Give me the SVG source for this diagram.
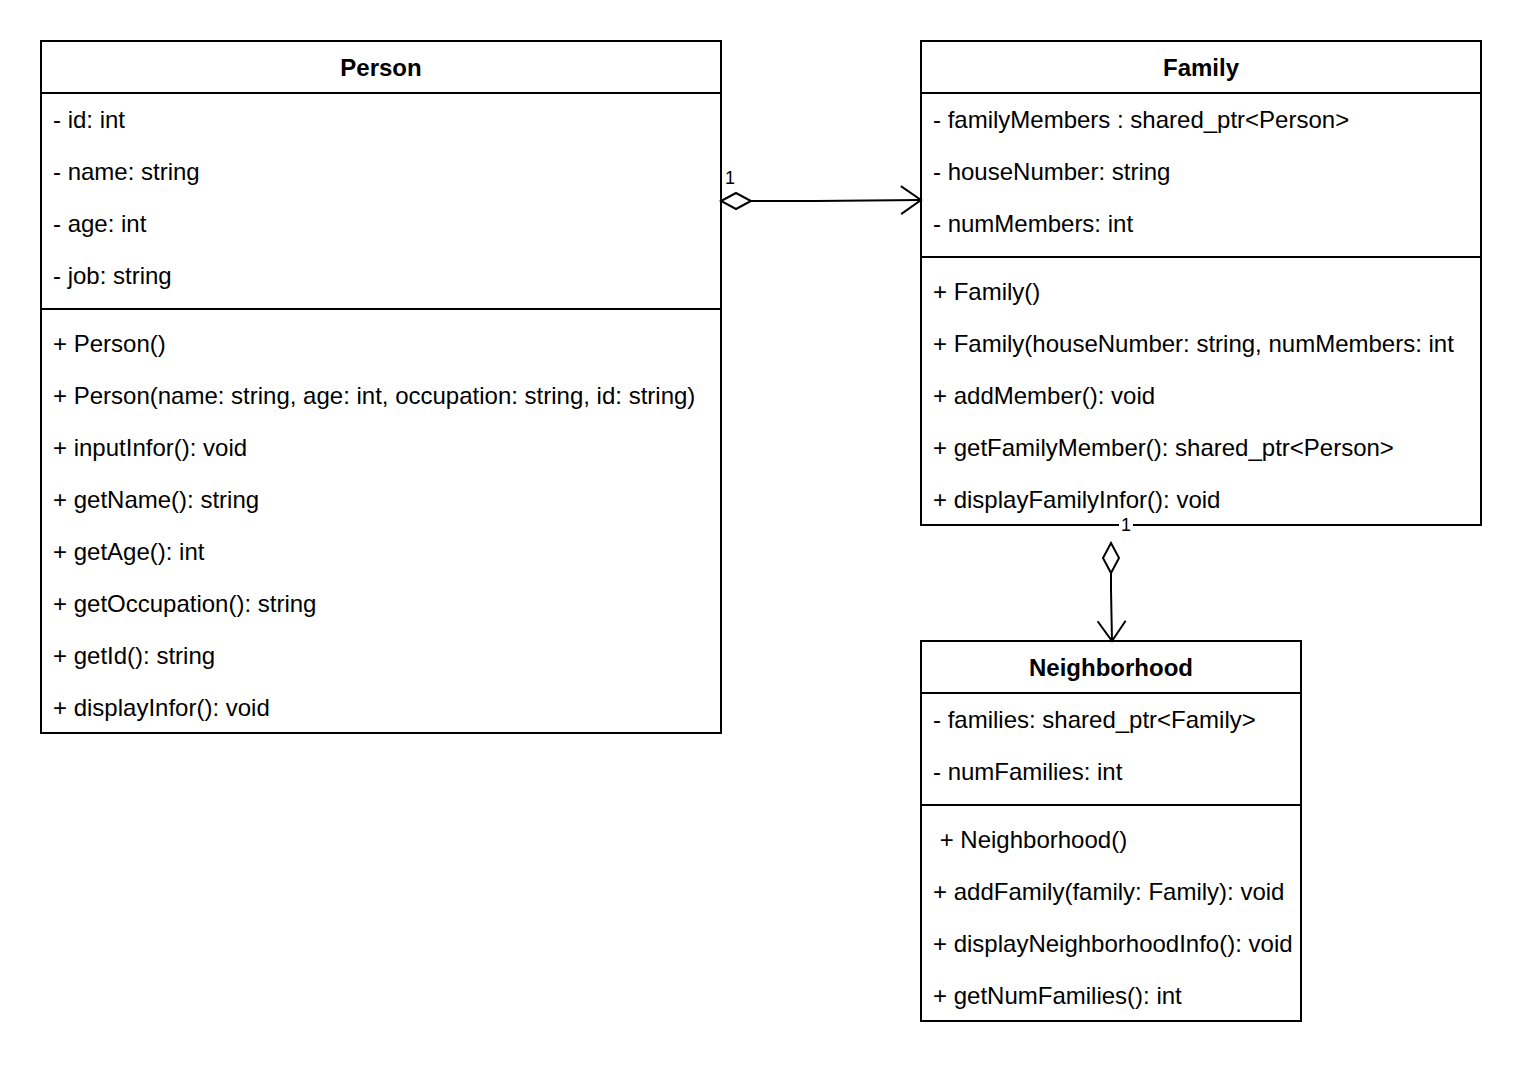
<svg xmlns="http://www.w3.org/2000/svg" width="1522" height="1068" viewBox="0 0 1522 1068">
  <style>
    .box { fill: #ffffff; stroke: #000000; stroke-width: 2; }
    .sep { stroke: #000000; stroke-width: 2; fill: none; }
    .title { font-family: "Liberation Sans", Arial, sans-serif; font-size: 24px; font-weight: bold; fill: #000000; text-anchor: middle; }
    .row { font-family: "Liberation Sans", Arial, sans-serif; font-size: 24px; fill: #000000; }
    .edge { stroke: #000000; stroke-width: 2; fill: none; }
    .lbl { font-family: "Liberation Sans", Arial, sans-serif; font-size: 18px; fill: #000000; }
  </style>
  <defs>
    <marker id="openArrow" markerWidth="24" markerHeight="32" refX="22" refY="16" orient="auto" markerUnits="userSpaceOnUse">
      <path d="M2,2 L22,16 L2,30" fill="none" stroke="#000000" stroke-width="2"/>
    </marker>
    <marker id="diamond" markerWidth="36" markerHeight="20" refX="2" refY="10" orient="auto" markerUnits="userSpaceOnUse">
      <path d="M2,10 L17,2 L32,10 L17,18 Z" fill="#ffffff" stroke="#000000" stroke-width="2"/>
    </marker>
  </defs>
  <rect x="0" y="0" width="1522" height="1068" fill="#ffffff"/>

  <g id="Person">
    <rect class="box" x="41" y="41" width="680" height="692"/>
    <line class="sep" x1="41" y1="93" x2="721" y2="93"/>
    <line class="sep" x1="41" y1="309" x2="721" y2="309"/>
    <text class="title" x="381" y="76">Person</text>
    <text class="row" x="53" y="128">- id: int</text>
    <text class="row" x="53" y="180">- name: string</text>
    <text class="row" x="53" y="232">- age: int</text>
    <text class="row" x="53" y="284">- job: string</text>
    <text class="row" x="53" y="352">+ Person()</text>
    <text class="row" x="53" y="404">+ Person(name: string, age: int, occupation: string, id: string)</text>
    <text class="row" x="53" y="456">+ inputInfor(): void</text>
    <text class="row" x="53" y="508">+ getName(): string</text>
    <text class="row" x="53" y="560">+ getAge(): int</text>
    <text class="row" x="53" y="612">+ getOccupation(): string</text>
    <text class="row" x="53" y="664">+ getId(): string</text>
    <text class="row" x="53" y="716">+ displayInfor(): void</text>
  </g>

  <g id="Family">
    <rect class="box" x="921" y="41" width="560" height="484"/>
    <line class="sep" x1="921" y1="93" x2="1481" y2="93"/>
    <line class="sep" x1="921" y1="257" x2="1481" y2="257"/>
    <text class="title" x="1201" y="76">Family</text>
    <text class="row" x="933" y="128">- familyMembers : shared_ptr&lt;Person&gt;</text>
    <text class="row" x="933" y="180">- houseNumber: string</text>
    <text class="row" x="933" y="232">- numMembers: int</text>
    <text class="row" x="933" y="300">+ Family()</text>
    <text class="row" x="933" y="352">+ Family(houseNumber: string, numMembers: int</text>
    <text class="row" x="933" y="404">+ addMember(): void</text>
    <text class="row" x="933" y="456">+ getFamilyMember(): shared_ptr&lt;Person&gt;</text>
    <text class="row" x="933" y="508">+ displayFamilyInfor(): void</text>
  </g>

  <g id="Neighborhood">
    <rect class="box" x="921" y="641" width="380" height="380"/>
    <line class="sep" x1="921" y1="693" x2="1301" y2="693"/>
    <line class="sep" x1="921" y1="805" x2="1301" y2="805"/>
    <text class="title" x="1111" y="676">Neighborhood</text>
    <text class="row" x="933" y="728">- families: shared_ptr&lt;Family&gt;</text>
    <text class="row" x="933" y="780">- numFamilies: int</text>
    <text class="row" x="933" y="848" xml:space="preserve"> + Neighborhood()</text>
    <text class="row" x="933" y="900">+ addFamily(family: Family): void</text>
    <text class="row" x="933" y="952">+ displayNeighborhoodInfo(): void</text>
    <text class="row" x="933" y="1004">+ getNumFamilies(): int</text>
  </g>

  <g id="connectors">
    <!-- Person aggregated by Family -->
    <path class="edge" d="M721,201 L815,201 L921,200" marker-start="url(#diamond)" marker-end="url(#openArrow)"/>
    <text class="lbl" x="725" y="184">1</text>
    <!-- Family aggregated by Neighborhood -->
    <path class="edge" d="M1111,543 L1111,590 L1112,641" marker-start="url(#diamond)" marker-end="url(#openArrow)"/>
    <rect x="1119" y="515" width="14" height="20" fill="#ffffff"/>
    <text class="lbl" x="1121" y="531">1</text>
  </g>
</svg>
